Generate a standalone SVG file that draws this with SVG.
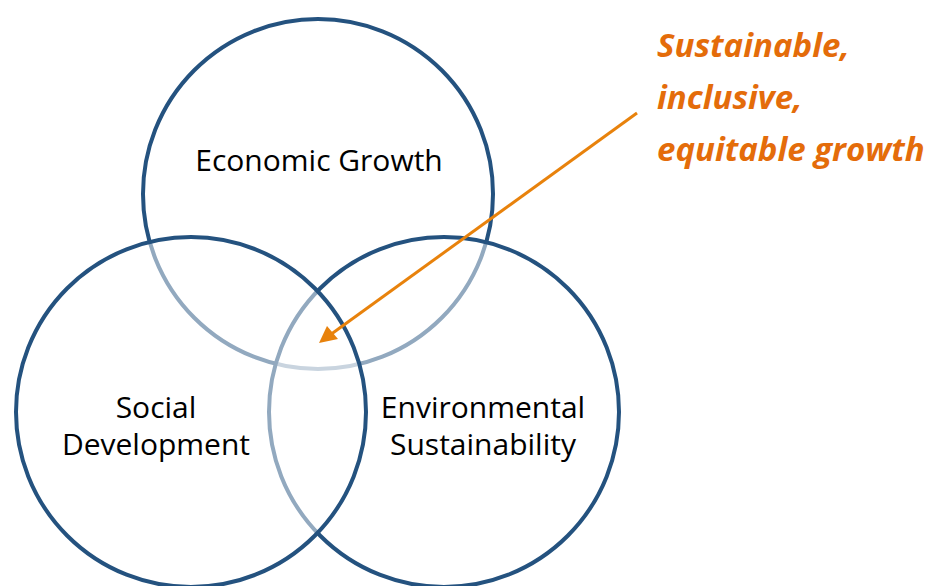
<svg xmlns="http://www.w3.org/2000/svg" width="931" height="586" viewBox="0 0 931 586">
<style>
.c{fill:#fff;fill-opacity:0.5;stroke:#24527F;stroke-width:4}
.t{font-family:"Open Sans","Liberation Sans",sans-serif;font-size:30px;fill:#000;text-anchor:middle}
.o{font-family:"Open Sans","Liberation Sans",sans-serif;font-size:33px;font-weight:bold;font-style:italic;fill:#E46C0A}
</style>
<g id="economic"><circle class="c" cx="318" cy="194" r="175"/><text class="t" x="319" y="171">Economic Growth</text></g>
<g id="environmental"><circle class="c" cx="444" cy="412" r="175"/><text class="t" x="483" y="418">Environmental</text><text class="t" x="483" y="455">Sustainability</text></g>
<g id="social"><circle class="c" cx="191" cy="412" r="175"/><text class="t" x="156" y="418">Social</text><text class="t" x="156" y="455">Development</text></g>
<g id="connectors"><line x1="637" y1="113" x2="330" y2="335" stroke="#E8820C" stroke-width="3"/><path d="M319,343 L327,326 L338,339 Z" fill="#E8820C"/></g>
<g id="label"><text class="o" x="657" y="57">Sustainable,</text><text class="o" x="657" y="109">inclusive,</text><text class="o" x="657" y="161">equitable growth</text></g>
</svg>
